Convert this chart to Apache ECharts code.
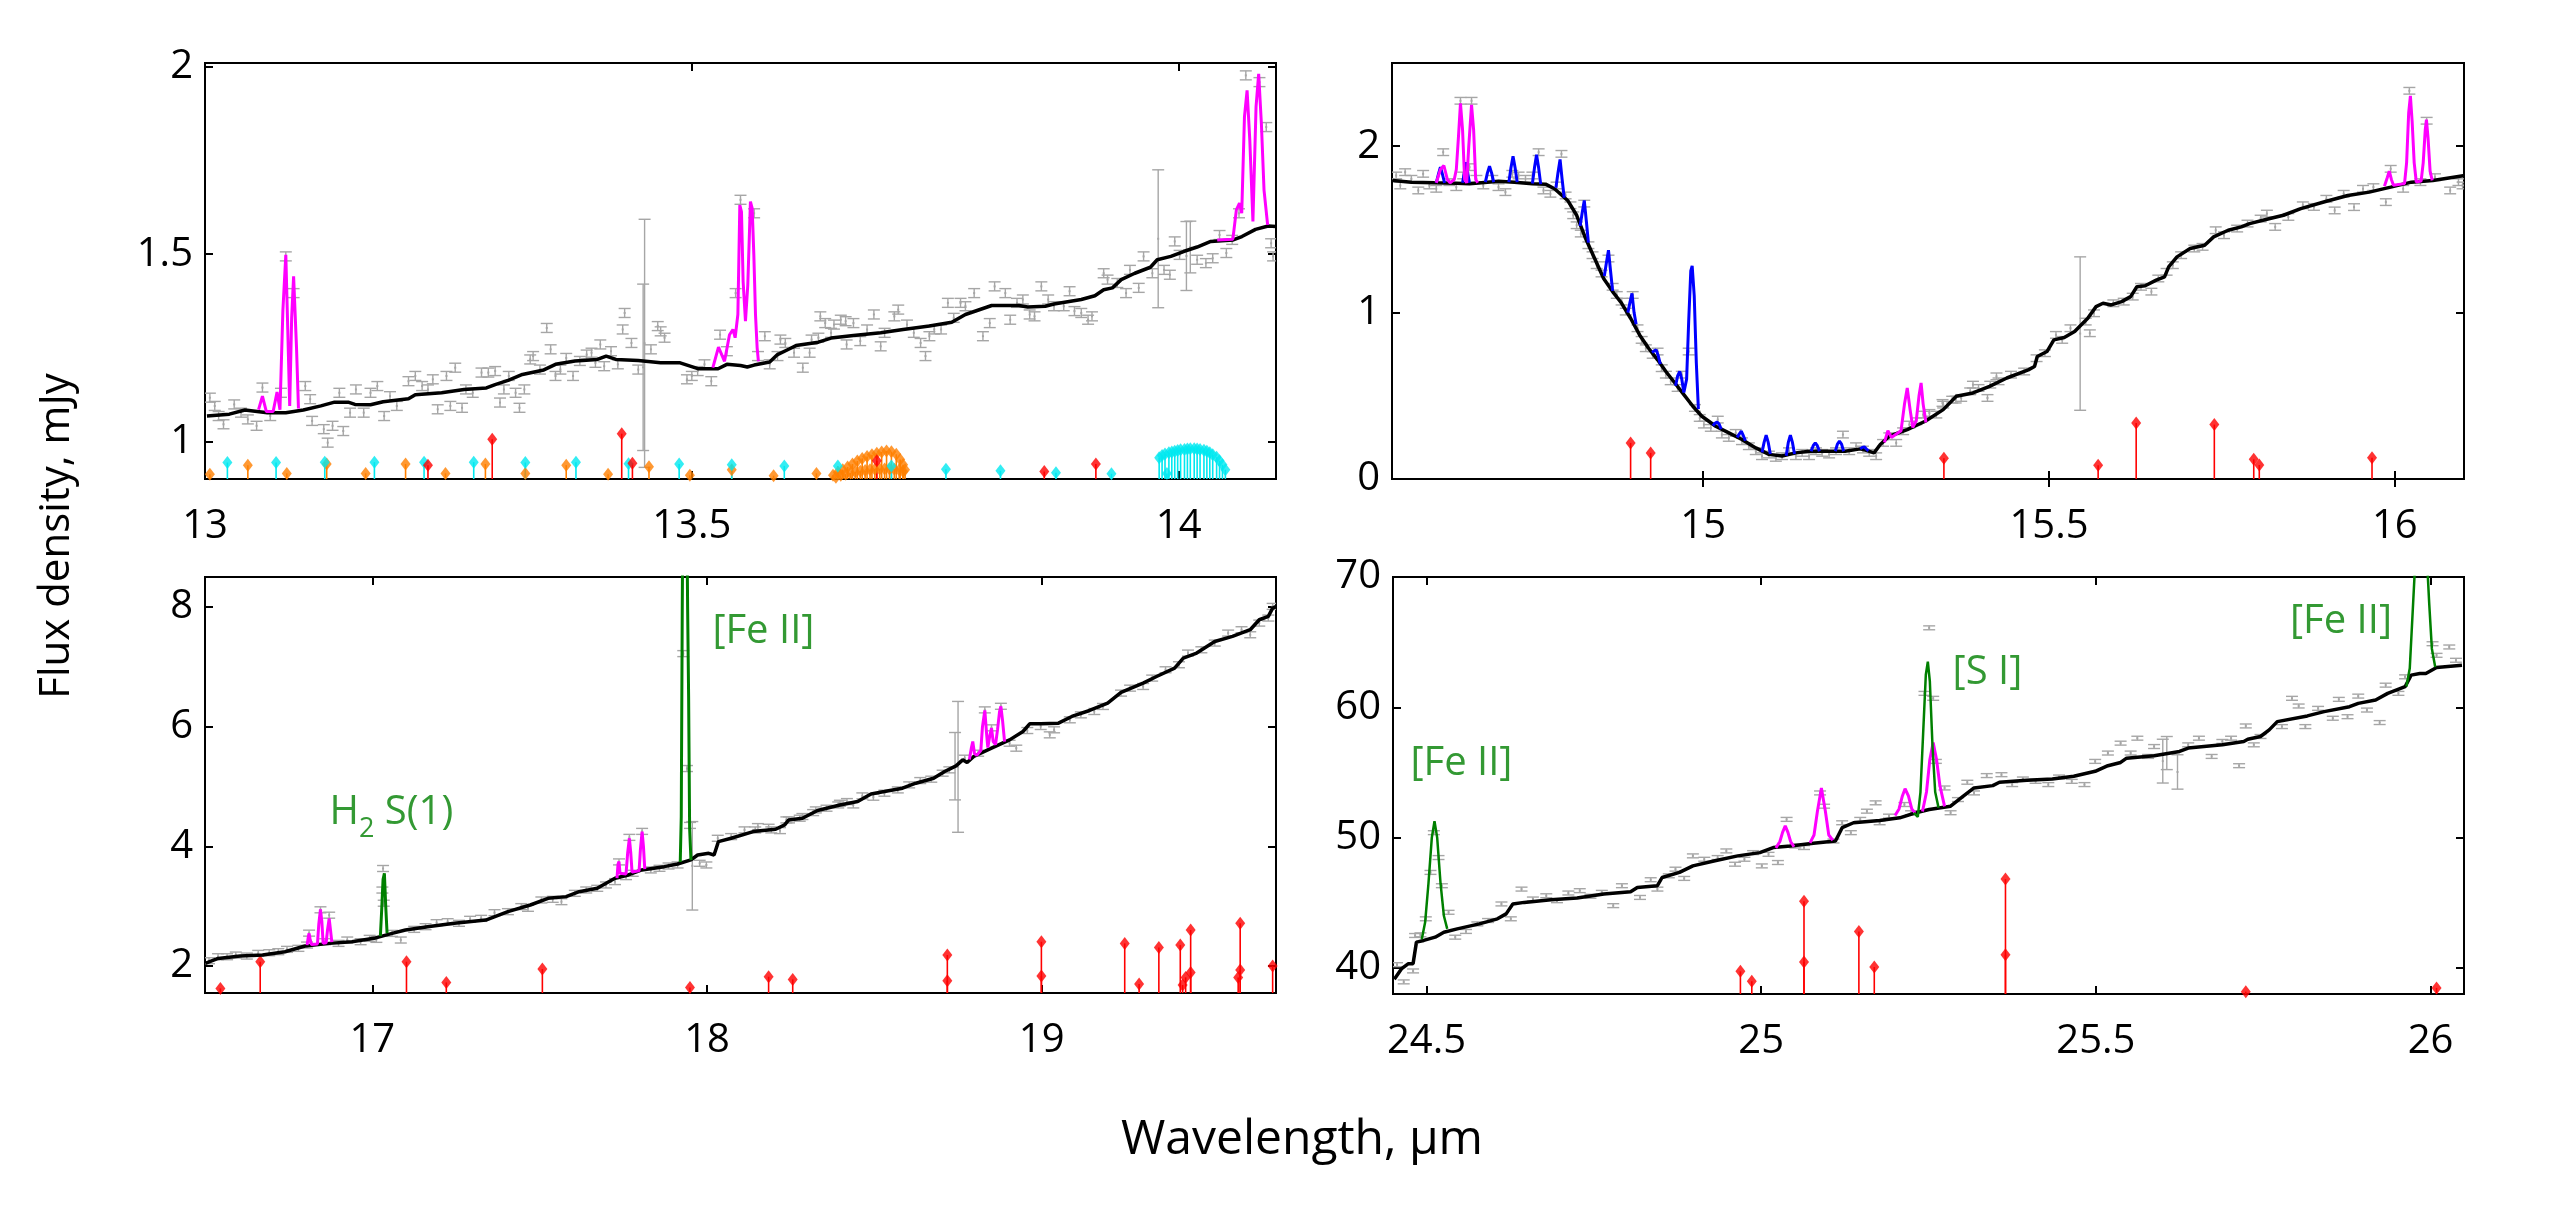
<!DOCTYPE html>
<html><head><meta charset="utf-8">
<script src="https://cdn.jsdelivr.net/npm/echarts@6/dist/echarts.min.js"></script>
<style>html,body{margin:0;padding:0;background:#fff}#c{width:2568px;height:1205px}</style>
</head><body><div id="c"></div>
<script>
// ---------------- Tick labels ----------------
const p1XTicks = [13, 13.5, 14];
const p1YTicks = [1, 1.5, 2];
const p2XTicks = [15, 15.5, 16];
const p2YTicks = [0, 1, 2];
const p3XTicks = [17, 18, 19];
const p3YTicks = [2, 4, 6, 8];
const p4XTicks = [24.5, 25, 25.5, 26];
const p4YTicks = [40, 50, 60, 70];

// ---------------- Panel 1 (13-14.1 um) ----------------
const p1Cont = [[13.002,1.068],[13.025,1.073],[13.041,1.084],[13.064,1.077],[13.083,1.077],[13.101,1.084],[13.119,1.095],[13.133,1.105],[13.147,1.105],[13.154,1.099],[13.170,1.098],[13.183,1.106],[13.209,1.114],[13.216,1.125],[13.243,1.130],[13.266,1.139],[13.289,1.143],[13.298,1.152],[13.312,1.164],[13.326,1.179],[13.348,1.191],[13.360,1.206],[13.380,1.215],[13.403,1.219],[13.412,1.228],[13.422,1.219],[13.445,1.216],[13.468,1.210],[13.488,1.210],[13.507,1.194],[13.527,1.194],[13.536,1.206],[13.550,1.203],[13.557,1.199],[13.564,1.204],[13.580,1.212],[13.588,1.232],[13.600,1.247],[13.607,1.256],[13.630,1.265],[13.643,1.276],[13.666,1.283],[13.694,1.290],[13.717,1.299],[13.744,1.308],[13.767,1.318],[13.781,1.339],[13.808,1.363],[13.836,1.363],[13.845,1.359],[13.863,1.361],[13.872,1.367],[13.900,1.379],[13.914,1.389],[13.923,1.405],[13.932,1.410],[13.941,1.432],[13.955,1.449],[13.971,1.465],[13.978,1.485],[13.992,1.494],[14.005,1.507],[14.019,1.519],[14.033,1.534],[14.056,1.538],[14.065,1.547],[14.079,1.566],[14.092,1.575],[14.100,1.574]];
const p1Err = [[13.005,1.117,0.012],[13.010,1.095,0.012],[13.014,1.068,0.012],[13.019,1.046,0.012],[13.030,1.099,0.012],[13.037,1.077,0.012],[13.044,1.059,0.012],[13.053,1.042,0.012],[13.059,1.144,0.012],[13.067,1.068,0.012],[13.078,1.130,0.012],[13.083,1.494,0.012],[13.091,1.396,0.012],[13.103,1.148,0.012],[13.108,1.113,0.012],[13.110,1.055,0.012],[13.122,1.033,0.012],[13.126,0.997,0.012],[13.131,1.042,0.012],[13.138,1.130,0.012],[13.142,1.028,0.012],[13.149,1.077,0.012],[13.155,1.139,0.012],[13.163,1.077,0.012],[13.170,1.130,0.012],[13.177,1.148,0.012],[13.184,1.068,0.012],[13.190,1.121,0.012],[13.197,1.095,0.012],[13.209,1.161,0.012],[13.216,1.175,0.012],[13.223,1.148,0.012],[13.229,1.139,0.012],[13.234,1.166,0.012],[13.239,1.086,0.012],[13.248,1.175,0.012],[13.252,1.095,0.012],[13.257,1.197,0.012],[13.264,1.090,0.012],[13.268,1.139,0.012],[13.275,1.130,0.012],[13.284,1.184,0.012],[13.291,1.184,0.012],[13.298,1.188,0.012],[13.303,1.104,0.012],[13.307,1.139,0.012],[13.312,1.175,0.012],[13.319,1.130,0.012],[13.323,1.090,0.012],[13.328,1.139,0.012],[13.334,1.219,0.012],[13.337,1.228,0.012],[13.344,1.192,0.012],[13.351,1.303,0.012],[13.355,1.246,0.012],[13.360,1.175,0.012],[13.365,1.192,0.012],[13.371,1.223,0.012],[13.378,1.175,0.012],[13.385,1.215,0.012],[13.392,1.232,0.012],[13.397,1.237,0.012],[13.401,1.210,0.012],[13.406,1.259,0.012],[13.410,1.201,0.012],[13.417,1.241,0.012],[13.424,1.206,0.012],[13.429,1.299,0.012],[13.431,1.343,0.012],[13.438,1.263,0.012],[13.445,1.192,0.012],[13.4515,1.262,0.331],[13.450,1.198,0.222],[13.458,1.246,0.012],[13.465,1.308,0.012],[13.468,1.294,0.012],[13.472,1.277,0.012],[13.495,1.166,0.012],[13.500,1.175,0.012],[13.506,1.188,0.012],[13.513,1.206,0.012],[13.520,1.161,0.012],[13.529,1.285,0.012],[13.536,1.241,0.012],[13.545,1.396,0.012],[13.550,1.645,0.012],[13.564,1.609,0.012],[13.568,1.228,0.012],[13.575,1.281,0.012],[13.580,1.206,0.012],[13.588,1.228,0.012],[13.591,1.272,0.012],[13.596,1.263,0.012],[13.605,1.237,0.012],[13.614,1.197,0.012],[13.621,1.237,0.012],[13.623,1.272,0.012],[13.630,1.277,0.012],[13.632,1.334,0.012],[13.637,1.316,0.012],[13.643,1.290,0.012],[13.646,1.312,0.012],[13.653,1.325,0.012],[13.658,1.321,0.012],[13.659,1.259,0.012],[13.666,1.316,0.012],[13.673,1.268,0.012],[13.680,1.299,0.012],[13.687,1.339,0.012],[13.694,1.254,0.012],[13.698,1.290,0.012],[13.708,1.334,0.012],[13.712,1.352,0.012],[13.721,1.312,0.012],[13.728,1.290,0.012],[13.735,1.263,0.012],[13.740,1.228,0.012],[13.744,1.281,0.012],[13.749,1.299,0.012],[13.756,1.299,0.012],[13.763,1.370,0.012],[13.769,1.330,0.012],[13.776,1.370,0.012],[13.781,1.361,0.012],[13.790,1.396,0.012],[13.799,1.281,0.012],[13.806,1.316,0.012],[13.811,1.414,0.012],[13.822,1.396,0.012],[13.827,1.325,0.012],[13.834,1.370,0.012],[13.840,1.379,0.012],[13.847,1.339,0.012],[13.852,1.334,0.012],[13.859,1.414,0.012],[13.866,1.379,0.012],[13.872,1.361,0.012],[13.882,1.361,0.012],[13.888,1.401,0.012],[13.893,1.348,0.012],[13.900,1.343,0.012],[13.907,1.325,0.012],[13.911,1.334,0.012],[13.923,1.449,0.012],[13.927,1.432,0.012],[13.937,1.423,0.012],[13.946,1.396,0.012],[13.950,1.458,0.012],[13.959,1.410,0.012],[13.964,1.494,0.012],[13.973,1.449,0.012],[13.979,1.541,0.184],[13.985,1.458,0.012],[13.991,1.445,0.012],[13.996,1.534,0.012],[14.001,1.498,0.012],[14.008,1.495,0.092],[14.012,1.519,0.069],[14.019,1.485,0.012],[14.028,1.476,0.012],[14.035,1.489,0.012],[14.042,1.551,0.012],[14.049,1.503,0.012],[14.055,1.538,0.012],[14.062,1.609,0.012],[14.069,1.977,0.012],[14.083,1.959,0.012],[14.090,1.839,0.012],[14.095,1.529,0.012],[14.097,1.494,0.012]];
const p1Magenta = [
  [[13.055,1.085],[13.059,1.121],[13.063,1.080],[13.070,1.080],[13.074,1.132],[13.077,1.085],[13.080,1.35],[13.083,1.498],[13.085,1.30],[13.087,1.095],[13.089,1.33],[13.091,1.441],[13.094,1.25],[13.096,1.088]],
  [[13.5216,1.197],[13.5274,1.252],[13.5336,1.214],[13.5387,1.285],[13.5422,1.299],[13.5445,1.277],[13.5473,1.339],[13.5493,1.631],[13.5510,1.613],[13.5527,1.427],[13.5551,1.321],[13.5575,1.418],[13.5602,1.640],[13.5620,1.622],[13.5637,1.498],[13.5654,1.339],[13.5671,1.25],[13.5684,1.214]],
  [[14.0396,1.538],[14.0557,1.540],[14.0593,1.618],[14.0625,1.636],[14.0648,1.609],[14.0676,1.866],[14.0703,1.937],[14.0731,1.804],[14.0763,1.587],[14.0795,1.893],[14.0822,1.981],[14.0850,1.848],[14.0877,1.671],[14.0914,1.578]]
];
const p1Red = [[13.229,0.937],[13.295,1.006],[13.428,1.021],[13.439,0.942],[13.690,0.949],[13.862,0.920],[13.915,0.940]];
const p1Cyan = [[13.023,0.944],[13.073,0.944],[13.123,0.945],[13.174,0.945],[13.225,0.945],[13.276,0.945],[13.329,0.944],[13.381,0.945],[13.435,0.941],[13.487,0.940],[13.541,0.938],[13.595,0.935],[13.650,0.935],[13.705,0.935],[13.761,0.926],[13.817,0.922],[13.874,0.917],[13.931,0.914],[13.988,0.915],
  [13.980,0.957],[13.983,0.963],[13.986,0.967],[13.990,0.970],[13.993,0.972],[13.996,0.974],[13.999,0.976],[14.002,0.978],[14.006,0.979],[14.009,0.980],[14.012,0.981],[14.016,0.981],[14.019,0.980],[14.022,0.979],[14.026,0.977],[14.029,0.974],[14.032,0.970],[14.035,0.965],[14.039,0.958],[14.042,0.949],[14.045,0.938],[14.048,0.925]];
const p1Orange = [[13.005,0.913],[13.044,0.937],[13.084,0.915],[13.125,0.940],[13.165,0.915],[13.206,0.940],[13.247,0.915],[13.288,0.940],[13.329,0.915],[13.371,0.937],[13.414,0.913],[13.456,0.933],[13.498,0.910],[13.541,0.925],[13.584,0.909],[13.628,0.915],
  [13.645,0.910],[13.650,0.918],[13.655,0.925],[13.660,0.932],[13.665,0.940],[13.670,0.948],[13.675,0.955],[13.680,0.960],[13.685,0.965],[13.690,0.969],[13.695,0.972],[13.700,0.975],[13.705,0.973],[13.710,0.966],[13.714,0.952],[13.717,0.938],[13.719,0.925],
  [13.648,0.905],[13.653,0.910],[13.658,0.913],[13.663,0.916],[13.668,0.919],[13.673,0.921],[13.678,0.923],[13.683,0.925],[13.688,0.926],[13.693,0.927],[13.698,0.927],[13.703,0.927],[13.708,0.926],[13.713,0.924],[13.717,0.920]];

// ---------------- Panel 2 (14.55-16.1 um) ----------------
const p2Cont = [[14.551,1.794],[14.578,1.784],[14.611,1.780],[14.643,1.778],[14.662,1.774],[14.688,1.784],[14.704,1.790],[14.727,1.784],[14.753,1.774],[14.772,1.772],[14.785,1.744],[14.804,1.674],[14.817,1.585],[14.830,1.445],[14.843,1.325],[14.856,1.205],[14.869,1.126],[14.882,1.056],[14.895,0.966],[14.908,0.866],[14.921,0.786],[14.934,0.716],[14.946,0.646],[14.959,0.577],[14.972,0.507],[14.985,0.437],[14.998,0.377],[15.018,0.317],[15.037,0.277],[15.056,0.237],[15.076,0.187],[15.095,0.148],[15.114,0.138],[15.134,0.157],[15.153,0.167],[15.179,0.167],[15.205,0.167],[15.227,0.181],[15.237,0.171],[15.247,0.157],[15.256,0.207],[15.269,0.257],[15.295,0.297],[15.321,0.347],[15.347,0.417],[15.366,0.497],[15.390,0.517],[15.414,0.557],[15.439,0.607],[15.470,0.656],[15.479,0.676],[15.483,0.736],[15.497,0.766],[15.507,0.836],[15.522,0.850],[15.537,0.886],[15.556,0.966],[15.568,1.036],[15.578,1.056],[15.590,1.046],[15.605,1.066],[15.618,1.096],[15.627,1.155],[15.639,1.161],[15.655,1.195],[15.667,1.215],[15.673,1.275],[15.685,1.335],[15.704,1.385],[15.725,1.405],[15.738,1.455],[15.759,1.495],[15.778,1.515],[15.790,1.535],[15.815,1.561],[15.839,1.585],[15.864,1.625],[15.901,1.669],[15.932,1.704],[15.963,1.724],[15.994,1.754],[16.024,1.784],[16.055,1.794],[16.101,1.824]];
const p2Err = [[14.556,1.824,0.02],[14.562,1.764,0.02],[14.569,1.844,0.02],[14.578,1.804,0.02],[14.588,1.734,0.02],[14.595,1.834,0.02],[14.604,1.764,0.02],[14.614,1.744,0.02],[14.624,1.964,0.02],[14.633,1.784,0.02],[14.643,1.754,0.02],[14.649,2.273,0.02],[14.653,1.824,0.02],[14.662,1.874,0.02],[14.665,2.273,0.02],[14.672,1.804,0.02],[14.682,1.764,0.02],[14.695,1.804,0.02],[14.704,1.754,0.02],[14.714,1.724,0.02],[14.724,1.834,0.02],[14.733,1.824,0.02],[14.743,1.804,0.02],[14.753,1.824,0.02],[14.762,1.964,0.02],[14.769,1.734,0.02],[14.779,1.714,0.02],[14.788,1.764,0.02],[14.795,1.954,0.02],[14.801,1.704,0.02],[14.808,1.645,0.02],[14.812,1.585,0.02],[14.817,1.525,0.02],[14.823,1.475,0.02],[14.828,1.655,0.02],[14.834,1.405,0.02],[14.840,1.345,0.02],[14.846,1.285,0.02],[14.853,1.235,0.02],[14.863,1.325,0.02],[14.869,1.155,0.02],[14.875,1.106,0.02],[14.882,1.066,0.02],[14.888,1.006,0.02],[14.898,1.106,0.02],[14.905,0.906,0.02],[14.911,0.836,0.02],[14.917,0.786,0.02],[14.927,0.746,0.02],[14.934,0.766,0.02],[14.940,0.666,0.02],[14.946,0.627,0.02],[14.953,0.587,0.02],[14.963,0.547,0.02],[14.969,0.627,0.02],[14.979,0.766,0.02],[14.988,0.427,0.02],[14.995,0.367,0.02],[15.001,0.327,0.02],[15.011,0.307,0.02],[15.021,0.357,0.02],[15.027,0.267,0.02],[15.037,0.247,0.02],[15.047,0.277,0.02],[15.056,0.227,0.02],[15.066,0.197,0.02],[15.076,0.167,0.02],[15.085,0.137,0.02],[15.095,0.147,0.02],[15.105,0.127,0.02],[15.114,0.137,0.02],[15.124,0.167,0.02],[15.134,0.137,0.02],[15.143,0.157,0.02],[15.153,0.137,0.02],[15.163,0.167,0.02],[15.172,0.157,0.02],[15.182,0.147,0.02],[15.192,0.167,0.02],[15.202,0.267,0.02],[15.211,0.167,0.02],[15.221,0.197,0.02],[15.231,0.177,0.02],[15.240,0.157,0.02],[15.250,0.137,0.02],[15.260,0.217,0.02],[15.269,0.257,0.02],[15.279,0.217,0.02],[15.289,0.287,0.02],[15.298,0.327,0.02],[15.308,0.347,0.02],[15.318,0.387,0.02],[15.327,0.397,0.02],[15.337,0.387,0.02],[15.347,0.447,0.02],[15.346,0.457,0.02],[15.360,0.477,0.02],[15.365,0.477,0.02],[15.373,0.487,0.02],[15.386,0.527,0.02],[15.390,0.567,0.02],[15.398,0.547,0.02],[15.411,0.487,0.02],[15.415,0.567,0.02],[15.424,0.617,0.02],[15.427,0.587,0.02],[15.445,0.627,0.02],[15.464,0.646,0.02],[15.482,0.726,0.02],[15.494,0.756,0.02],[15.510,0.866,0.02],[15.519,0.836,0.02],[15.531,0.906,0.02],[15.545,0.874,0.461],[15.553,0.946,0.02],[15.559,0.876,0.02],[15.565,0.996,0.02],[15.593,1.056,0.02],[15.608,1.066,0.02],[15.621,1.096,0.02],[15.633,1.155,0.02],[15.648,1.126,0.02],[15.658,1.205,0.02],[15.670,1.245,0.02],[15.679,1.285,0.02],[15.691,1.345,0.02],[15.710,1.385,0.02],[15.722,1.395,0.02],[15.741,1.495,0.02],[15.753,1.465,0.02],[15.772,1.505,0.02],[15.787,1.535,0.02],[15.806,1.565,0.02],[15.815,1.595,0.02],[15.827,1.515,0.02],[15.846,1.575,0.02],[15.867,1.645,0.02],[15.883,1.635,0.02],[15.901,1.684,0.02],[15.913,1.614,0.02],[15.926,1.714,0.02],[15.941,1.634,0.02],[15.954,1.744,0.02],[15.969,1.754,0.02],[15.987,1.664,0.02],[15.994,1.864,0.02],[16.012,1.744,0.02],[16.021,2.333,0.02],[16.037,1.784,0.02],[16.046,2.153,0.02],[16.058,1.814,0.02],[16.080,1.734,0.02],[16.092,1.784,0.02],[16.098,1.764,0.02]];
const p2Magenta = [
  [[14.614,1.78],[14.620,1.86],[14.625,1.884],[14.630,1.80],[14.634,1.78],[14.640,1.80],[14.643,1.86],[14.646,2.05],[14.649,2.257],[14.652,2.10],[14.655,1.80],[14.658,1.78],[14.661,2.0],[14.665,2.249],[14.668,2.10],[14.671,1.80],[14.674,1.78]],
  [[15.262,0.22],[15.267,0.29],[15.272,0.25],[15.286,0.29],[15.291,0.45],[15.295,0.547],[15.299,0.42],[15.303,0.31],[15.308,0.35],[15.312,0.50],[15.315,0.577],[15.318,0.45],[15.322,0.34]],
  [[15.985,1.76],[15.989,1.81],[15.992,1.85],[15.995,1.80],[15.998,1.765],[16.014,1.775],[16.017,1.90],[16.020,2.20],[16.0225,2.303],[16.025,2.15],[16.028,1.90],[16.031,1.785],[16.038,1.79],[16.041,1.90],[16.044,2.10],[16.0457,2.159],[16.048,2.05],[16.051,1.85],[16.054,1.795]]
];
const p2Blue = [
  [[14.614,1.78],[14.617,1.83],[14.620,1.874],[14.623,1.83],[14.626,1.78]],
  [[14.652,1.78],[14.655,1.85],[14.657,1.904],[14.659,1.85],[14.662,1.78]],
  [[14.685,1.784],[14.688,1.84],[14.691,1.880],[14.694,1.84],[14.697,1.784]],
  [[14.719,1.784],[14.722,1.87],[14.725,1.940],[14.728,1.87],[14.731,1.784]],
  [[14.753,1.776],[14.756,1.87],[14.759,1.948],[14.762,1.87],[14.765,1.772]],
  [[14.787,1.75],[14.790,1.84],[14.793,1.920],[14.796,1.80],[14.799,1.69]],
  [[14.822,1.52],[14.825,1.60],[14.828,1.674],[14.831,1.55],[14.834,1.42]],
  [[14.857,1.22],[14.860,1.30],[14.863,1.375],[14.866,1.25],[14.869,1.13]],
  [[14.891,1.00],[14.894,1.06],[14.897,1.116],[14.900,1.00],[14.903,0.93]],
  [[14.926,0.76],[14.929,0.77],[14.932,0.776],[14.935,0.74],[14.938,0.69]],
  [[14.960,0.56],[14.963,0.62],[14.966,0.646],[14.969,0.60],[14.972,0.52],[14.976,0.60],[14.979,0.95],[14.982,1.25],[14.984,1.281],[14.987,1.10],[14.990,0.70],[14.993,0.42]],
  [[15.014,0.32],[15.017,0.335],[15.020,0.343],[15.023,0.33],[15.026,0.30]],
  [[15.049,0.25],[15.052,0.27],[15.055,0.287],[15.058,0.26],[15.061,0.23]],
  [[15.085,0.16],[15.088,0.22],[15.091,0.263],[15.094,0.22],[15.097,0.15]],
  [[15.120,0.14],[15.123,0.22],[15.126,0.263],[15.129,0.22],[15.132,0.15]],
  [[15.156,0.167],[15.159,0.20],[15.162,0.217],[15.165,0.20],[15.168,0.167]],
  [[15.191,0.167],[15.194,0.21],[15.197,0.227],[15.200,0.21],[15.203,0.167]],
  [[15.227,0.181],[15.230,0.19],[15.233,0.193],[15.236,0.18],[15.239,0.17]]
];
const p2Red = [[14.895,0.217],[14.924,0.157],[15.348,0.124],[15.571,0.082],[15.626,0.337],[15.739,0.327],[15.796,0.118],[15.804,0.084],[15.967,0.128]];

// ---------------- Panel 3 (16.5-19.7 um) ----------------
const p3Cont = [[16.501,2.045],[16.539,2.128],[16.605,2.167],[16.672,2.184],[16.739,2.240],[16.799,2.335],[16.872,2.379],[16.939,2.407],[17.005,2.463],[17.059,2.546],[17.099,2.602],[17.165,2.658],[17.245,2.714],[17.339,2.769],[17.405,2.909],[17.472,3.020],[17.525,3.132],[17.579,3.160],[17.618,3.243],[17.672,3.299],[17.725,3.466],[17.765,3.522],[17.805,3.606],[17.872,3.661],[17.912,3.706],[17.952,3.773],[17.972,3.856],[18.005,3.884],[18.021,3.856],[18.034,4.079],[18.072,4.135],[18.138,4.247],[18.205,4.286],[18.232,4.358],[18.244,4.442],[18.285,4.470],[18.330,4.598],[18.397,4.692],[18.450,4.748],[18.490,4.876],[18.530,4.915],[18.584,4.971],[18.624,5.055],[18.677,5.138],[18.710,5.250],[18.744,5.345],[18.764,5.445],[18.777,5.400],[18.797,5.501],[18.850,5.640],[18.904,5.779],[18.944,5.919],[18.964,6.047],[18.997,6.047],[19.050,6.058],[19.090,6.170],[19.143,6.270],[19.197,6.392],[19.237,6.571],[19.303,6.727],[19.343,6.838],[19.397,6.978],[19.423,7.145],[19.463,7.229],[19.517,7.423],[19.570,7.507],[19.623,7.619],[19.650,7.786],[19.677,7.842],[19.690,7.981],[19.701,8.009]];
const p3Err = [[16.512,2.089,0.05],[16.539,2.156,0.05],[16.566,2.156,0.05],[16.592,2.184,0.05],[16.625,2.167,0.05],[16.659,2.212,0.05],[16.692,2.223,0.05],[16.719,2.240,0.05],[16.745,2.279,0.05],[16.779,2.296,0.05],[16.805,2.351,0.05],[16.811,2.55,0.05],[16.845,2.94,0.05],[16.859,2.407,0.05],[16.871,2.85,0.05],[16.899,2.379,0.05],[16.925,2.435,0.05],[16.965,2.407,0.05],[16.992,2.463,0.05],[17.012,2.446,0.05],[17.030,3.27,0.05],[17.032,3.63,0.05],[17.034,3.05,0.05],[17.059,2.546,0.05],[17.085,2.435,0.05],[17.125,2.613,0.05],[17.159,2.658,0.05],[17.192,2.725,0.05],[17.225,2.741,0.05],[17.259,2.714,0.05],[17.292,2.781,0.05],[17.325,2.797,0.05],[17.365,2.892,0.05],[17.405,2.909,0.05],[17.445,2.993,0.05],[17.465,2.965,0.05],[17.505,3.104,0.05],[17.539,3.115,0.05],[17.565,3.076,0.05],[17.605,3.215,0.05],[17.639,3.271,0.05],[17.672,3.299,0.05],[17.698,3.355,0.05],[17.725,3.411,0.05],[17.737,3.74,0.05],[17.758,3.494,0.05],[17.768,4.15,0.05],[17.778,3.550,0.05],[17.806,4.25,0.05],[17.832,3.606,0.05],[17.858,3.633,0.05],[17.885,3.672,0.05],[17.912,3.689,0.05],[17.929,7.22,0.05],[17.940,5.30,0.05],[17.949,4.35,0.05],[17.956,3.675,0.739],[17.978,3.717,0.05],[17.998,3.689,0.05],[18.032,4.135,0.05],[18.072,4.163,0.05],[18.112,4.275,0.05],[18.144,4.274,0.05],[18.152,4.330,0.05],[18.184,4.319,0.05],[18.192,4.275,0.05],[18.218,4.263,0.05],[18.237,4.442,0.05],[18.245,4.442,0.05],[18.277,4.470,0.05],[18.285,4.498,0.05],[18.317,4.564,0.05],[18.325,4.609,0.05],[18.357,4.637,0.05],[18.392,4.692,0.05],[18.397,4.720,0.05],[18.418,4.748,0.05],[18.437,4.692,0.05],[18.464,4.843,0.05],[18.497,4.821,0.05],[18.530,4.888,0.05],[18.570,4.943,0.05],[18.604,5.027,0.05],[18.637,5.099,0.05],[18.670,5.122,0.05],[18.704,5.222,0.05],[18.724,5.278,0.05],[18.741,5.339,0.563],[18.750,5.328,1.093],[18.770,5.473,0.05],[18.810,5.556,0.05],[18.830,6.28,0.05],[18.850,5.98,0.05],[18.878,6.34,0.05],[18.904,5.723,0.05],[18.924,5.640,0.05],[18.957,5.935,0.05],[18.997,6.002,0.05],[19.024,5.863,0.05],[19.037,5.947,0.05],[19.084,6.114,0.05],[19.117,6.197,0.05],[19.157,6.253,0.05],[19.183,6.337,0.05],[19.237,6.560,0.05],[19.264,6.643,0.05],[19.303,6.671,0.05],[19.330,6.811,0.05],[19.370,6.950,0.05],[19.410,7.034,0.05],[19.437,7.229,0.05],[19.477,7.284,0.05],[19.517,7.396,0.05],[19.557,7.563,0.05],[19.597,7.619,0.05],[19.623,7.535,0.05],[19.650,7.730,0.05],[19.677,7.814,0.05],[19.690,8.009,0.05]];
const p3Magenta = [
  [[16.805,2.35],[16.809,2.50],[16.811,2.546],[16.814,2.45],[16.818,2.36],[16.836,2.37],[16.840,2.70],[16.845,2.947],[16.849,2.75],[16.853,2.38],[16.862,2.39],[16.866,2.60],[16.871,2.797],[16.875,2.60],[16.879,2.40]],
  [[17.731,3.47],[17.734,3.70],[17.737,3.745],[17.740,3.55],[17.758,3.54],[17.763,3.90],[17.768,4.135],[17.772,3.90],[17.776,3.57],[17.797,3.59],[17.801,3.95],[17.806,4.247],[17.810,4.00],[17.814,3.62]],
  [[18.784,5.45],[18.790,5.65],[18.794,5.751],[18.799,5.55],[18.806,5.52],[18.818,5.60],[18.823,6.00],[18.830,6.270],[18.835,5.90],[18.839,5.65],[18.845,5.85],[18.850,5.975],[18.855,5.75],[18.862,5.70],[18.868,5.95],[18.874,6.25],[18.878,6.337],[18.883,6.10],[18.889,5.75]]
];
const p3Green = [
  [[17.024,2.50],[17.028,2.95],[17.032,3.45],[17.036,3.55],[17.040,3.0],[17.044,2.55]],
  [[17.920,3.74],[17.923,4.5],[17.926,8.0],[17.930,11.5],[17.935,12.0],[17.939,10.0],[17.942,8.0],[17.945,6.5],[17.948,4.3],[17.952,3.77]]
];
const p3Red = [[16.546,1.627],[16.665,2.073],[17.102,2.073],[17.221,1.727],[17.508,1.950],[17.949,1.643],[18.184,1.822],[18.256,1.777],[18.718,2.184],[18.718,1.755],[18.999,2.407],[18.999,1.833],[19.248,2.379],[19.291,1.699],[19.350,2.312],[19.414,2.351],[19.421,1.683],[19.430,1.811],[19.445,2.602],[19.445,1.894],[19.587,1.811],[19.593,2.714],[19.593,1.933],[19.690,2.0]];
const p3Labels = [[18.016,7.585,'[Fe II]'],[16.872,4.475,'H2 S(1)']];

// ---------------- Panel 4 (24.45-26.05 um) ----------------
const p4Cont = [[24.452,39.13],[24.463,39.95],[24.473,40.33],[24.480,40.33],[24.485,41.98],[24.496,42.11],[24.513,42.36],[24.526,42.74],[24.546,43.00],[24.579,43.38],[24.606,43.77],[24.619,44.15],[24.629,44.91],[24.646,45.03],[24.686,45.24],[24.725,45.37],[24.765,45.67],[24.805,45.85],[24.815,46.18],[24.845,46.31],[24.852,46.94],[24.878,47.33],[24.898,47.83],[24.931,48.22],[24.965,48.60],[24.998,48.85],[25.018,49.24],[25.044,49.36],[25.078,49.57],[25.111,49.74],[25.121,50.76],[25.138,51.14],[25.177,51.32],[25.207,51.52],[25.231,51.91],[25.251,52.16],[25.283,52.41],[25.302,53.18],[25.318,53.81],[25.346,53.99],[25.356,54.25],[25.397,54.40],[25.435,54.50],[25.467,54.71],[25.499,55.09],[25.518,55.52],[25.537,55.77],[25.546,56.10],[25.587,56.28],[25.625,56.61],[25.638,56.87],[25.689,57.12],[25.721,57.38],[25.727,57.55],[25.746,57.76],[25.759,58.27],[25.771,58.90],[25.816,59.34],[25.841,59.67],[25.879,60.05],[25.892,60.30],[25.918,60.56],[25.936,61.07],[25.962,61.58],[25.971,62.47],[25.984,62.59],[25.993,62.59],[26.009,63.05],[26.047,63.23]];
const p4Err = [[24.456,40.25,0.15],[24.466,38.93,0.15],[24.480,39.77,0.15],[24.483,42.49,0.15],[24.491,42.54,0.15],[24.499,43.77,0.15],[24.506,47.33,0.15],[24.511,50.38,0.15],[24.518,48.47,0.15],[24.523,46.31,0.15],[24.533,44.27,0.15],[24.543,42.36,0.15],[24.559,42.80,0.15],[24.576,43.38,0.15],[24.592,43.64,0.15],[24.612,44.91,0.15],[24.626,43.77,0.15],[24.642,46.05,0.15],[24.659,45.29,0.15],[24.679,45.54,0.15],[24.695,45.16,0.15],[24.712,45.75,0.15],[24.729,45.93,0.15],[24.745,45.50,0.15],[24.762,45.80,0.15],[24.779,44.78,0.15],[24.792,46.31,0.15],[24.819,45.41,0.15],[24.835,46.77,0.15],[24.845,46.05,0.15],[24.862,47.07,0.15],[24.872,47.58,0.15],[24.885,46.87,0.15],[24.898,48.60,0.15],[24.915,48.34,0.15],[24.935,48.47,0.15],[24.948,48.98,0.15],[24.961,47.96,0.15],[24.975,48.34,0.15],[24.988,48.85,0.15],[25.001,47.83,0.15],[25.011,48.72,0.15],[25.025,48.09,0.15],[25.038,51.40,0.15],[25.051,49.36,0.15],[25.064,49.24,0.15],[25.088,53.43,0.15],[25.094,52.41,0.15],[25.108,49.74,0.15],[25.121,51.14,0.15],[25.134,50.38,0.15],[25.148,51.40,0.15],[25.158,52.03,0.15],[25.171,52.67,0.15],[25.177,51.14,0.15],[25.191,51.65,0.15],[25.214,52.54,0.15],[25.224,51.91,0.15],[25.244,61.07,0.15],[25.251,66.10,0.15],[25.257,60.69,0.15],[25.261,55.85,0.15],[25.274,53.81,0.15],[25.283,51.91,0.15],[25.294,52.92,0.15],[25.308,54.25,0.15],[25.318,53.43,0.15],[25.337,54.76,0.15],[25.359,54.83,0.15],[25.375,54.07,0.15],[25.391,54.50,0.15],[25.410,54.32,0.15],[25.429,54.07,0.15],[25.445,54.65,0.15],[25.464,54.32,0.15],[25.483,54.07,0.15],[25.499,55.85,0.15],[25.518,56.49,0.15],[25.537,57.25,0.15],[25.552,56.49,0.15],[25.562,57.63,0.15],[25.578,56.23,0.15],[25.587,56.99,0.15],[25.600,55.87,1.68],[25.606,56.49,1.27],[25.622,55.04,1.32],[25.638,57.12,0.15],[25.654,57.63,0.15],[25.673,56.23,0.15],[25.689,57.38,0.15],[25.702,57.63,0.15],[25.714,55.52,0.15],[25.724,58.57,0.15],[25.736,57.12,0.15],[25.746,57.76,0.15],[25.778,58.52,0.15],[25.793,60.69,0.15],[25.803,60.10,0.15],[25.813,58.52,0.15],[25.832,59.92,0.15],[25.854,59.16,0.15],[25.863,60.61,0.15],[25.876,59.28,0.15],[25.892,60.86,0.15],[25.905,59.79,0.15],[25.924,58.83,0.15],[25.933,61.70,0.15],[25.952,61.07,0.15],[25.962,62.34,0.15],[26.003,64.88,0.15],[26.009,63.99,0.15],[26.028,64.63,0.15],[26.038,63.61,0.15]];
const p4Magenta = [
  [[25.022,49.2],[25.028,49.7],[25.032,50.4],[25.036,50.9],[25.040,50.4],[25.044,49.7],[25.049,49.3]],
  [[25.073,49.6],[25.079,50.2],[25.084,52.0],[25.090,53.8],[25.096,52.0],[25.101,50.2],[25.107,49.8]],
  [[25.200,51.7],[25.206,52.2],[25.211,53.2],[25.215,53.75],[25.220,53.2],[25.225,52.2],[25.230,51.9]],
  [[25.241,52.0],[25.247,53.5],[25.252,56.0],[25.257,57.3],[25.262,56.0],[25.267,54.0],[25.274,52.4]]
];
const p4Green = [
  [[24.493,42.2],[24.498,43.5],[24.503,46.5],[24.508,50.0],[24.512,51.27],[24.516,50.0],[24.521,46.5],[24.526,44.0],[24.531,43.0]],
  [[25.228,51.9],[25.234,51.6],[25.238,53.5],[25.242,58.0],[25.246,62.5],[25.249,63.5],[25.252,62.0],[25.256,57.0],[25.260,53.5],[25.265,52.3]],
  [[25.964,61.6],[25.969,63.0],[25.974,68.0],[25.978,72.0],[25.986,75.0],[25.994,72.0],[25.998,68.0],[26.002,64.5],[26.007,63.1]]
];
const p4Red = [[24.969,39.74],[24.986,38.98],[25.064,45.11],[25.064,40.46],[25.146,42.80],[25.169,40.07],[25.365,46.82],[25.365,41.02],[25.724,38.18],[26.009,38.47]];
const p4Labels = [[24.476,55.67,'[Fe II]'],[25.286,62.69,'[S I]'],[25.790,66.55,'[Fe II]']];

// ---------------- Layout / style ----------------
const FONT = "'Open Sans', 'Noto Sans', 'DejaVu Sans', sans-serif";
const GRAY = '#a6a6a6', MAG = '#ff00ff', BLUE = '#0000ff', GREEN = '#008000', RED = '#ff0000', CYAN = '#00e8f0', ORANGE = '#ff8000';
const layout = [
  {left: 205, top: 63, width: 1071, height: 416, x: [13.0, 14.1], y: [0.9, 2.01], xt: p1XTicks, yt: p1YTicks},
  {left: 1392, top: 63, width: 1072, height: 416, x: [14.55, 16.1], y: [0, 2.5], xt: p2XTicks, yt: p2YTicks},
  {left: 205, top: 577, width: 1071, height: 416, x: [16.5, 19.7], y: [1.55, 8.5], xt: p3XTicks, yt: p3YTicks},
  {left: 1393, top: 577, width: 1071, height: 417, x: [24.45, 26.05], y: [38, 70], xt: p4XTicks, yt: p4YTicks}
];

const grids = [], xAxes = [], yAxes = [], series = [];
layout.forEach((L, i) => {
  grids.push({left: L.left, top: L.top, width: L.width, height: L.height, show: true, borderColor: '#000', borderWidth: 2, backgroundColor: 'transparent'});
});
const tickStyle = {color: '#000', width: 2};
layout.forEach((L, i) => {
  xAxes.push({type: 'value', gridIndex: i, min: L.x[0], max: L.x[1], position: 'bottom',
    axisLine: {show: false}, splitLine: {show: false},
    axisTick: {show: true, inside: true, length: 8, customValues: L.xt, lineStyle: tickStyle},
    axisLabel: {show: true, customValues: L.xt, color: '#000', fontSize: 40, fontFamily: FONT, margin: 28}});
  yAxes.push({type: 'value', gridIndex: i, min: L.y[0], max: L.y[1], position: 'left',
    axisLine: {show: false}, splitLine: {show: false},
    axisTick: {show: true, inside: true, length: 8, customValues: L.yt, lineStyle: tickStyle},
    axisLabel: {show: true, customValues: L.yt, color: '#000', fontSize: 40, fontFamily: FONT, margin: 12}});
});
layout.forEach((L, i) => {
  xAxes.push({type: 'value', gridIndex: i, min: L.x[0], max: L.x[1], position: 'top',
    axisLine: {show: false}, splitLine: {show: false},
    axisTick: {show: true, inside: true, length: 8, customValues: L.xt, lineStyle: tickStyle},
    axisLabel: {show: false}});
  yAxes.push({type: 'value', gridIndex: i, min: L.y[0], max: L.y[1], position: 'right',
    axisLine: {show: false}, splitLine: {show: false},
    axisTick: {show: true, inside: true, length: 8, customValues: L.yt, lineStyle: tickStyle},
    axisLabel: {show: false}});
});

function errRender(params, api) {
  const x = api.value(0), y = api.value(1), e = api.value(2);
  const t = api.coord([x, y + e]), b = api.coord([x, y - e]), m = api.coord([x, y]);
  const st = {stroke: GRAY, lineWidth: 1.4};
  const cap = 6;
  return {type: 'group', children: [
    {type: 'line', shape: {x1: t[0], y1: t[1], x2: b[0], y2: b[1]}, style: st},
    {type: 'line', shape: {x1: t[0] - cap, y1: t[1], x2: t[0] + cap, y2: t[1]}, style: st},
    {type: 'line', shape: {x1: b[0] - cap, y1: b[1], x2: b[0] + cap, y2: b[1]}, style: st},
    {type: 'rect', shape: {x: m[0] - 1, y: m[1] - 1, width: 2, height: 2}, style: {fill: GRAY}}
  ]};
}
function stemRender(color) {
  return function (params, api) {
    const p = api.coord([api.value(0), api.value(1)]);
    const cs = params.coordSys;
    return {type: 'line', shape: {x1: p[0], y1: p[1], x2: p[0], y2: cs.y + cs.height}, style: {stroke: color, lineWidth: 1.6}};
  };
}
function addErr(i, data) {
  series.push({type: 'custom', xAxisIndex: i, yAxisIndex: i, data: data, renderItem: errRender, clip: true, z: 1, silent: true, encode: {x: 0, y: 1}});
}
function addStems(i, data, color) {
  series.push({type: 'custom', xAxisIndex: i, yAxisIndex: i, data: data, renderItem: stemRender(color), clip: true, z: 2, silent: true, encode: {x: 0, y: 1}});
  series.push({type: 'scatter', xAxisIndex: i, yAxisIndex: i, data: data, symbol: 'diamond', symbolSize: [10, 13], itemStyle: {color: color}, z: 2, silent: true, clip: true});
}
function addLine(i, data, color, width, z) {
  series.push({type: 'line', xAxisIndex: i, yAxisIndex: i, data: data, showSymbol: false, symbol: 'none', lineStyle: {color: color, width: width}, z: z, silent: true, clip: true});
}
function addLabels(i, data) {
  series.push({type: 'scatter', xAxisIndex: i, yAxisIndex: i, symbolSize: 0, z: 6, silent: true,
    data: data.map(d => ({value: [d[0], d[1]], name: d[2]})),
    label: {show: true, position: 'right', distance: 0, color: GREEN, fontSize: 40, fontFamily: FONT,
      formatter: p => p.name === 'H2 S(1)' ? '{n|H}{s|2}{n| S(1)}' : p.name,
      rich: {n: {fontSize: 40, fontFamily: FONT, color: GREEN, lineHeight: 50, verticalAlign: 'top'},
             s: {fontSize: 27, fontFamily: FONT, color: GREEN, lineHeight: 30, verticalAlign: 'bottom'}}}});
}

// Panel 1
addErr(0, p1Err);
addStems(0, p1Orange, ORANGE);
addStems(0, p1Cyan, CYAN);
addStems(0, p1Red, RED);
addLine(0, p1Cont, '#000', 3.5, 3);
p1Magenta.forEach(s => addLine(0, s, MAG, 3, 4));
// Panel 2
addErr(1, p2Err);
addStems(1, p2Red, RED);
addLine(1, p2Cont, '#000', 3.5, 3);
p2Blue.forEach(s => addLine(1, s, BLUE, 3, 4));
p2Magenta.forEach(s => addLine(1, s, MAG, 3, 4));
// Panel 3
addErr(2, p3Err);
addStems(2, p3Red, RED);
addLine(2, p3Cont, '#000', 3.5, 3);
p3Magenta.forEach(s => addLine(2, s, MAG, 3, 4));
p3Green.forEach(s => addLine(2, s, GREEN, 3, 5));
addLabels(2, p3Labels);
// Panel 4
addErr(3, p4Err);
addStems(3, p4Red, RED);
addLine(3, p4Cont, '#000', 3.5, 3);
p4Magenta.forEach(s => addLine(3, s, MAG, 3, 4));
p4Green.forEach(s => addLine(3, s, GREEN, 2.5, 5));
addLabels(3, p4Labels);

const chart = echarts.init(document.getElementById('c'), null, {renderer: 'canvas', width: 2568, height: 1205});
chart.setOption({
  animation: false,
  backgroundColor: '#fff',
  grid: grids,
  xAxis: xAxes,
  yAxis: yAxes,
  series: series,
  graphic: [
    {type: 'text', x: 57, y: 536, rotation: Math.PI / 2,
      style: {text: 'Flux density, mJy', fill: '#000', font: "42px 'Open Sans', 'Noto Sans', sans-serif", align: 'center', verticalAlign: 'middle', textAlign: 'center', textVerticalAlign: 'middle'}},
    {type: 'text', x: 1302, y: 1140,
      style: {text: 'Wavelength, \u00b5m', fill: '#000', font: "48px 'Open Sans', 'Noto Sans', sans-serif", align: 'center', verticalAlign: 'middle', textAlign: 'center', textVerticalAlign: 'middle'}}
  ]
});
</script></body></html>
